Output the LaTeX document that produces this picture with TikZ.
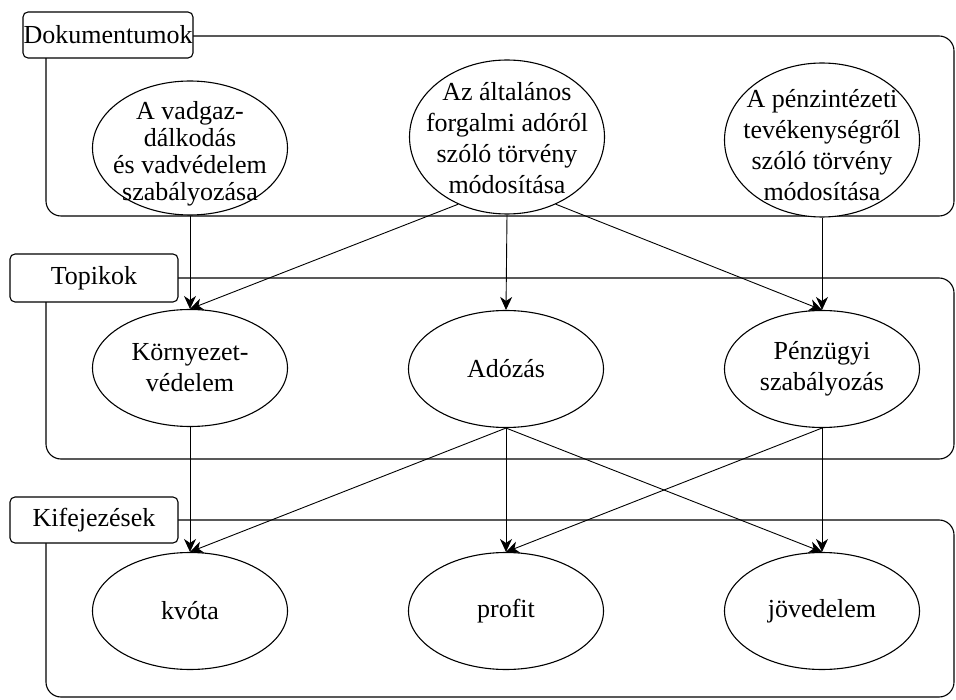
\documentclass[tikz,border=0pt]{standalone}
\usepackage{fontspec}
\setmainfont{Liberation Serif}
\usetikzlibrary{arrows.meta,shapes.geometric}
\begin{document}
\begin{tikzpicture}[x=1pt,y=-1pt,line width=1.1pt,
  frame/.style={draw,rounded corners=15pt},
  tag/.style={draw,fill=white,rounded corners=5pt,inner sep=0pt,font=\fontsize{26}{30}\selectfont},
  oval/.style={draw,fill=white,ellipse,inner sep=-30pt,align=center,minimum width=195pt,font=\fontsize{26}{31}\selectfont},
  link/.style={-{Stealth[length=13pt,width=12pt,inset=4pt]},line width=0.9pt}]
\useasboundingbox (0,0) rectangle (956,700);
% group frames
\draw[frame] (46,36) rectangle (954,216);
\draw[frame] (46,278) rectangle (954,459);
\draw[frame] (46,520) rectangle (954,697);
% group labels
\node[tag,minimum width=170pt,minimum height=46pt] (gdoc) at (108,35) {Dokumentumok};
\node[tag,minimum width=168pt,minimum height=48pt] (gtop) at (94,278) {Topikok};
\node[tag,minimum width=168pt,minimum height=46pt] (gkif) at (94,520) {Kifejezések};
% documents
\node[oval,minimum height=134pt,font=\fontsize{26}{27}\selectfont] (d1) at (190,148) {\rule{0pt}{30pt}A vadgaz-\\dálkodás\\ és vadvédelem\\szabályozása};
\node[oval,minimum height=154pt] (d2) at (507,137) {\rule{0pt}{21pt}Az általános\\forgalmi adóról\\szóló törvény\\módosítása};
\node[oval,minimum height=154pt] (d3) at (822,140) {\rule{0pt}{29pt}A pénzintézeti\\tevékenységről\\szóló törvény\\módosítása};
% topics
\node[oval,minimum height=117pt] (t1) at (190,368) {Környezet-\\védelem};
\node[oval,minimum height=117pt] (t2) at (506,369) {Adózás};
\node[oval,minimum height=117pt] (t3) at (822,369) {Pénzügyi\\szabályozás};
% terms
\node[oval,minimum height=117pt] (k1) at (190,611) {kvóta};
\node[oval,minimum height=117pt] (k2) at (506,611) {profit};
\node[oval,minimum height=117pt] (k3) at (822,611) {jövedelem};
% connectors
\draw[link] (d1.south) -- (t1.north);
\draw[link] (d2.234) -- (t1.north);
\draw[link] (d2.south) -- (t2.north);
\draw[link] (d2.306) -- (t3.north);
\draw[link] (d3.south) -- (t3.north);
\draw[link] (t1.south) -- (k1.north);
\draw[link] (t2.south) -- (k1.north);
\draw[link] (t2.south) -- (k2.north);
\draw[link] (t2.south) -- (k3.north);
\draw[link] (t3.south) -- (k2.north);
\draw[link] (t3.south) -- (k3.north);
\end{tikzpicture}
\end{document}
